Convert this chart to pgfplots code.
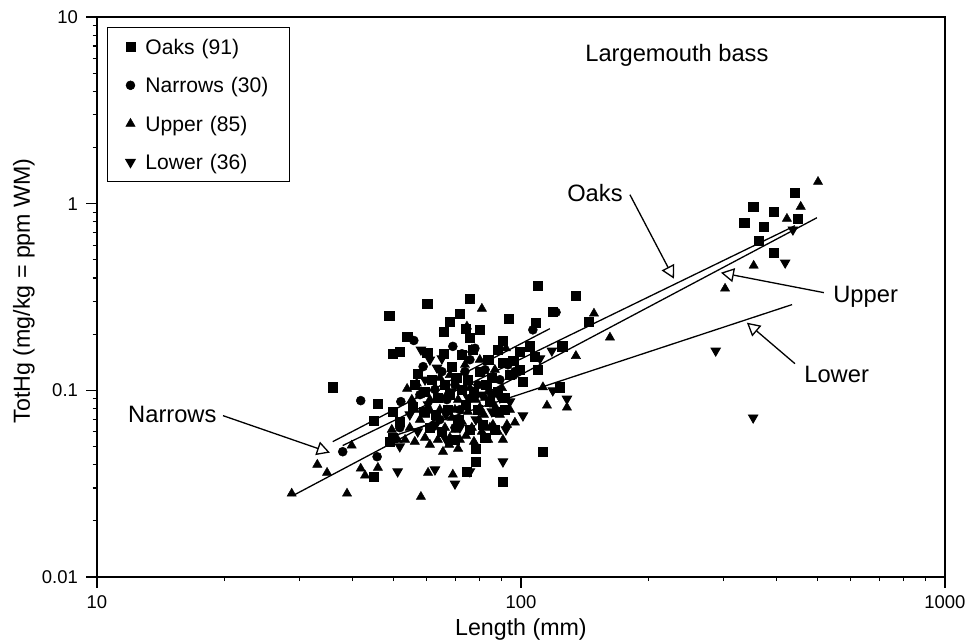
\documentclass[border=0pt]{standalone}
\usepackage{fontspec}
\setmainfont{Liberation Sans}
\usepackage{pgfplots}
\pgfplotsset{compat=1.18}
\usetikzlibrary{arrows.meta}

% Largemouth bass: total mercury against length, four sites
\pgfplotsset{
  scat/.style={only marks, mark options={draw=black, fill=black, line width=0.2pt},
    legend image code/.code={%
      \path[draw=none, fill=none] (0pt,0pt) -- (16pt,0pt);
      \draw[mark repeat=2,mark phase=2,##1] plot coordinates {(8.7pt,0pt) (9.7pt,0pt) (10.7pt,0pt)};}},
  fit/.style={black, line width=0.55pt, forget plot, no marks},
}
\tikzset{
  pointer/.style={line width=0.55pt, -{Triangle[fill=white, length=5.5pt, width=5.9pt, line width=0.55pt]}},
  lbl/.style={font=\fontsize{10}{12}\selectfont, inner sep=0pt},
}

\begin{document}
\begin{tikzpicture}
\begin{axis}[
  xmode=log, ymode=log,
  scale only axis, width=357.9pt, height=236.3pt,
  xmin=10, xmax=1000, ymin=0.01, ymax=10,
  xtick={10,100,1000}, xticklabels={10,100,1000},
  ytick={0.01,0.1,1,10}, yticklabels={0.01,0.1,1,10},
  tick pos=left, tick align=outside,
  major tick length=4.5pt, minor tick length=1.8pt,
  axis line style={line width=0.8pt},
  every tick/.style={black, line width=0.5pt},
  tick label style={font=\fontsize{7.8}{9}\selectfont},
  /pgf/number format/assume math mode=true,
  xlabel={Length (mm)}, ylabel={TotHg (mg/kg = ppm WM)},
  label style={font=\fontsize{9.8}{11}\selectfont},
  xlabel style={at={(axis description cs:0.5,-0.0946)}, anchor=center},
  ylabel style={at={(axis description cs:-0.0860,0.511)}, anchor=center},
  legend style={at={(axis description cs:0.0118,0.982)}, anchor=north west,
    draw=black, line width=0.5pt, font=\fontsize{8.9}{10}\selectfont,
    inner xsep=0pt, inner ysep=0pt, row sep=0pt, column sep=0pt,
    nodes={inner sep=0pt, text width=60.8pt, text height=11.2pt, text depth=5.0pt}},
  legend cell align=left,
]
\coordinate (SW) at (rel axis cs:0,0);
\coordinate (NE) at (rel axis cs:1,1);

\addplot[scat, mark=square*, mark size=2.0pt] coordinates {
(36.0,0.104) (48.9,0.251) (49.9,0.157) (51.8,0.161) (53.9,0.194) (60.1,0.291)
(60.1,0.159) (57.1,0.123) (56.2,0.107) (65.8,0.206) (65.8,0.157) (68.0,0.233)
(71.8,0.258) (74.2,0.214) (75.8,0.310) (75.8,0.192) (77.1,0.165) (80.0,0.211)
(90.7,0.185) (93.7,0.242) (95.8,0.144) (90.7,0.141) (99.5,0.161) (105,0.172)
(107.9,0.151) (99.5,0.129) (101.1,0.111) (109.7,0.129) (108.5,0.230) (109.7,0.363)
(118.9,0.264) (123.6,0.104) (125.0,0.172) (134.8,0.322) (144.7,0.233)
(46.0,0.0849) (49.9,0.0769) (45.0,0.0688) (55.6,0.0819) (59.1,0.0769) (51.8,0.0680)
(49.1,0.0531) (49.9,0.0558) (45.0,0.0345) (74.6,0.0367) (78.3,0.0415) (78.3,0.0487)
(82.3,0.0558) (90.7,0.0324) (112.7,0.0469)
(336,0.791) (353,0.964) (364,0.634) (374,0.753) (395,0.906) (395,0.546) (443,1.145) (450,0.831)
(68.7,0.134) (59.4,0.0985) (61.7,0.114) (63.7,0.0914) (66.2,0.107) (68.0,0.0948)
(70.3,0.117) (72.6,0.101) (75.0,0.114) (77.5,0.0985) (80.0,0.126) (82.8,0.107)
(85.4,0.117) (88.2,0.0985) (91.7,0.0914) (94.2,0.121) (63.0,0.0741) (67.3,0.0788)
(71.1,0.0697) (74.2,0.0839) (79.2,0.0788) (84.5,0.0870) (87.8,0.0769) (91.7,0.0788)
(61.0,0.0631) (65.1,0.0601) (69.9,0.0544) (75.8,0.0616) (81.3,0.0655) (86.8,0.0616)
(72.6,0.155) (83.7,0.146) (88.2,0.165)
};
\addlegendentry{Oaks (91)}

\addplot[scat, mark=*, mark size=1.9pt] coordinates {
(38.0,0.0469) (41.9,0.0881) (45.8,0.0441) (52.1,0.0870) (51.8,0.0631) (55.9,0.185)
(58.8,0.134) (69.1,0.172) (72.6,0.157) (77.9,0.168) (75.8,0.146) (106.7,0.211)
(121,0.262) (57.8,0.0948) (60.4,0.0788) (62.7,0.101) (65.1,0.126) (66.9,0.0892)
(69.9,0.107) (71.8,0.0788) (73.8,0.126) (76.6,0.0914) (79.2,0.107) (82.3,0.129)
(85.4,0.0948) (89.2,0.114) (93.2,0.137) (96.8,0.126) (64.4,0.0697) (69.9,0.0631)
};
\addlegendentry{Narrows (30)}

\addplot[scat, mark=triangle*, mark size=2.25pt] coordinates {
(28.8,0.0280) (33.1,0.0400) (34.9,0.0362) (38.9,0.0280) (39.9,0.0506) (41.9,0.0381)
(42.9,0.0350) (46.0,0.0385) (53.9,0.102) (56.8,0.109) (58.1,0.0269) (60.4,0.0362)
(65.5,0.0469) (67.7,0.0512) (69.1,0.0354) (71.1,0.0487) (79.6,0.0697) (80.9,0.0601)
(85.9,0.0655) (88.2,0.0601) (80.9,0.274) (74.6,0.220) (76.6,0.165) (92.2,0.168)
(112.7,0.104) (115.2,0.0829) (128.4,0.0809) (96.8,0.0672) (134.8,0.153) (148.7,0.258)
(162.2,0.192) (303,0.351) (354,0.466) (424,0.831) (457,0.964) (502,1.31)
(53.3,0.0544) (54.7,0.0631) (56.2,0.0531) (57.8,0.0697) (59.4,0.0558) (61.0,0.0512)
(62.0,0.0655) (63.7,0.0544) (64.4,0.0788) (66.2,0.0631) (68.0,0.0558) (68.7,0.0714)
(69.9,0.0616) (71.8,0.0544) (72.6,0.0680) (74.2,0.0572) (75.0,0.0769) (76.6,0.0631)
(77.5,0.0531) (78.3,0.0892) (80.0,0.0809) (81.8,0.0741) (83.7,0.0544) (84.5,0.0631)
(86.4,0.0839) (89.2,0.0741) (90.7,0.0544) (92.7,0.0655) (94.2,0.0788) (61.0,0.0892)
(66.2,0.0914) (71.1,0.0892) (75.8,0.103) (83.7,0.0985) (90.2,0.103) (56.2,0.0788)
(51.2,0.0544) (49.6,0.0616) (57.8,0.0948) (62.7,0.103) (68.0,0.121) (73.8,0.137)
(80.0,0.146) (86.8,0.129) (59.4,0.0741) (69.9,0.0788) (82.3,0.0914) (64.4,0.117)
(55.3,0.0892)
};
\addlegendentry{Upper (85)}

\addplot[scat, mark=triangle*, mark size=2.25pt, mark options={rotate=180}] coordinates {
(51.2,0.0367) (51.8,0.0500) (58.1,0.165) (63.4,0.132) (62.7,0.0376) (69.9,0.0316)
(75.8,0.0367) (90.7,0.0415) (94.2,0.0870) (101.1,0.0732) (128.4,0.090) (110.9,0.148)
(97.3,0.123) (118.3,0.163) (118.9,0.0998) (61.0,0.146) (288,0.163) (353,0.0714)
(420,0.483) (438,0.726) (65.1,0.148) (54.7,0.0741) (57.1,0.0601) (60.4,0.0839)
(63.0,0.0655) (66.6,0.0741) (68.7,0.0985) (71.8,0.0631) (75.0,0.0914) (78.3,0.0697)
(80.9,0.0948) (85.4,0.0769) (89.2,0.0914) (92.2,0.0616) (66.6,0.0544) (59.4,0.114)
};
\addlegendentry{Lower (36)}

% regression lines
\addplot[fit] coordinates {(36.0,0.0531) (117,0.214)};   % Narrows
\addplot[fit] coordinates {(38.0,0.0506) (443,0.762)};   % Oaks
\addplot[fit] coordinates {(29.0,0.0273) (499,0.841)};   % Upper
\addplot[fit] coordinates {(51.3,0.058) (436,0.288)};    % Lower

% labels with pointers to the lines
\node[lbl, anchor=base] at (axis cs:233.3,5.784) {Largemouth bass};
\node[lbl, anchor=base] at (axis cs:149.5,1.029) {Oaks};
\draw[pointer] (axis cs:180.8,1.117) -- (axis cs:229.6,0.3966);
\node[lbl, anchor=base west] at (axis cs:544.3,0.295) {Upper};
\draw[pointer] (axis cs:518.3,0.3338) -- (axis cs:296.3,0.4270);
\node[lbl, anchor=base west] at (axis cs:465.0,0.1104) {Lower};
\draw[pointer] (axis cs:442.9,0.139) -- (axis cs:341.2,0.2305);
\node[lbl, anchor=base east] at (axis cs:19.19,0.0669) {Narrows};
\draw[pointer] (axis cs:19.83,0.0732) -- (axis cs:35.44,0.04638);
\end{axis}
\pgfresetboundingbox
\path[use as bounding box] ([shift={(-40.9pt,-27.0pt)}]SW) rectangle ([shift={(8.9pt,7.2pt)}]NE);
\end{tikzpicture}
\end{document}
